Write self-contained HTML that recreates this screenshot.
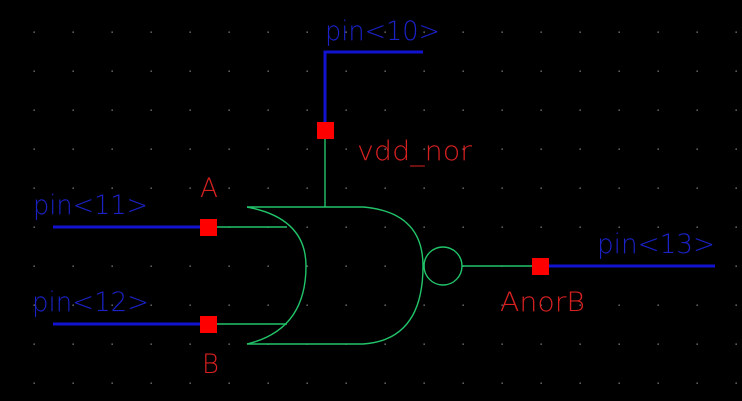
<!DOCTYPE html>
<html><head><style>html,body{margin:0;padding:0;background:#000;}svg{display:block}</style></head>
<body>
<svg width="742" height="401" viewBox="0 0 742 401" xmlns="http://www.w3.org/2000/svg">
<defs>
<pattern id="g" x="33.5" y="31.5" width="39" height="39" patternUnits="userSpaceOnUse">
<rect x="0" y="0" width="1.3" height="1.3" fill="#8a8a8a"/>
</pattern>
</defs>
<rect width="742" height="401" fill="#000"/>
<rect width="742" height="401" fill="url(#g)"/>
<g fill="none" stroke="#22c46a" stroke-width="1.4">
<line x1="325" y1="138" x2="325" y2="207"/>
<path d="M247,207 L363,207 Q423,212 423,266 Q423,340 363,344 L247,344"/>
<path d="M247,207 Q306,218 306,266 Q306,330 247,344"/>
<line x1="216" y1="227" x2="287" y2="227"/>
<line x1="216" y1="324" x2="287" y2="324"/>
<circle cx="443" cy="266" r="19"/>
<line x1="462" y1="266" x2="540" y2="266"/>
</g>
<g stroke="#1212d0" stroke-width="3" fill="none">
<path d="M423,52 L325,52 L325,130"/>
<line x1="53" y1="227" x2="208" y2="227"/>
<line x1="53" y1="324" x2="208" y2="324"/>
<line x1="540" y1="266" x2="715" y2="266"/>
</g>
<g fill="#ff0000">
<rect x="317" y="122" width="17" height="17"/>
<rect x="200" y="219" width="17" height="17"/>
<rect x="200" y="316" width="17" height="17"/>
<rect x="532" y="258" width="17" height="17"/>
</g>
<g font-family="DejaVu Sans, sans-serif" font-size="27" font-weight="200" fill="#1a22c8">
<text x="325" y="40" textLength="115" lengthAdjust="spacingAndGlyphs">pin&lt;10&gt;</text>
<text x="33" y="214" textLength="115" lengthAdjust="spacingAndGlyphs">pin&lt;11&gt;</text>
<text x="32" y="311" textLength="117" lengthAdjust="spacingAndGlyphs">pin&lt;12&gt;</text>
<text x="597" y="253" textLength="118" lengthAdjust="spacingAndGlyphs">pin&lt;13&gt;</text>
</g>
<g font-family="DejaVu Sans, sans-serif" font-size="27" font-weight="200" fill="#d82020">
<text x="357" y="160" textLength="115" lengthAdjust="spacingAndGlyphs">vdd_nor</text>
<text x="200" y="197" textLength="18" lengthAdjust="spacingAndGlyphs">A</text>
<text x="202" y="373" textLength="17" lengthAdjust="spacingAndGlyphs">B</text>
<text x="500" y="311" textLength="85" lengthAdjust="spacingAndGlyphs">AnorB</text>
</g>
</svg>
</body></html>
